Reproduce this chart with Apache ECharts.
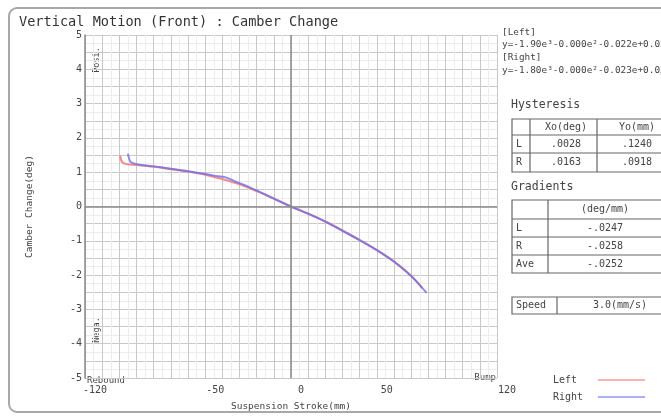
<!DOCTYPE html>
<html>
<head>
<meta charset="utf-8">
<script src="https://cdn.jsdelivr.net/npm/echarts@6/dist/echarts.min.js"></script>
<style>
  html, body { margin: 0; padding: 0; background: #fff; }
  #chart { width: 661px; height: 417px; }
</style>
</head>
<body>
<div id="chart"></div>
<script>
// Camber change vs. suspension stroke, left and right wheels
const leftStroke  = [-99.5, -98.5, -96, -90, -80, -70, -60, -50, -40, -30, -20, -10, 0, 10, 20, 30, 40, 50, 60, 70, 76.5];
const leftCamber  = [1.48, 1.30, 1.24, 1.21, 1.16, 1.09, 1.02, 0.93, 0.80, 0.65, 0.45, 0.23, 0.0, -0.21, -0.44, -0.70, -0.98, -1.27, -1.60, -2.02, -2.38];
const rightStroke = [-95, -93.5, -91, -88, -80, -70, -60, -50, -45, -38, -32, -25, -18, -10, 0, 10, 20, 30, 40, 50, 60, 70, 79];
const rightCamber = [1.54, 1.30, 1.25, 1.22, 1.17, 1.10, 1.03, 0.95, 0.90, 0.85, 0.72, 0.58, 0.42, 0.23, 0.0, -0.21, -0.44, -0.71, -0.98, -1.27, -1.61, -2.03, -2.52];

const xTickLabels = [-120, -50, 0, 50, 120];
const yTickLabels = [-5, -4, -3, -2, -1, 0, 1, 2, 3, 4, 5];

const seriesNames = ['Left', 'Right'];
const seriesColors = ['#f07a7a', '#6f6fe8'];

const fitLines = ['[Left]', 'y=-1.90e\u00b3-0.000e\u00b2-0.022e+0.03', '[Right]', 'y=-1.80e\u00b3-0.000e\u00b2-0.023e+0.03'];

const hystHeader = ['', 'Xo(deg)', 'Yo(mm)'];
const hystRows = [['L', '.0028', '.1240'], ['R', '.0163', '.0918']];
const gradHeader = ['', '(deg/mm)'];
const gradRows = [['L', '-.0247'], ['R', '-.0258'], ['Ave', '-.0252']];
const speedCells = ['Speed', '3.0(mm/s)'];

const MONO = '"DejaVu Sans Mono", "Liberation Mono", monospace';
const TXT = '#444';

function pairs(xs, ys) { return xs.map((x, i) => [x, ys[i]]); }

const chart = echarts.init(document.getElementById('chart'), null, { renderer: 'canvas' });

// frame, title and side panel
const g = [];
g.push({ type: 'rect', shape: { x: 9, y: 8, width: 700, height: 404, r: 8 }, style: { fill: 'none', stroke: '#a8a8a8', lineWidth: 2 }, z: 0 });
g.push({ type: 'text', left: 19, top: 15, style: { text: 'Vertical Motion (Front) : Camber Change', font: '13.6px ' + MONO, fill: '#333' } });

const fitY = [28, 40, 53, 66];
fitLines.forEach((t, i) => {
  g.push({ type: 'text', x: 502, y: fitY[i], style: { text: t, font: '9.4px ' + MONO, fill: TXT } });
});

g.push({ type: 'text', x: 511, y: 99, style: { text: 'Hysteresis', font: '11.5px ' + MONO, fill: TXT } });
g.push({ type: 'text', x: 511, y: 181, style: { text: 'Gradients', font: '11.5px ' + MONO, fill: TXT } });

function table(rows, top, rowH, colX, centers) {
  const right = 672;
  const bottom = top + rowH.reduce((a, b) => a + b, 0);
  g.push({ type: 'rect', shape: { x: colX[0], y: top, width: right - colX[0], height: bottom - top }, style: { fill: 'none', stroke: '#666', lineWidth: 1.2 } });
  colX.slice(1).forEach(cx => g.push({ type: 'line', shape: { x1: cx, y1: top, x2: cx, y2: bottom }, style: { stroke: '#666', lineWidth: 1.2 } }));
  let y = top;
  rows.forEach((r, i) => {
    if (i > 0) g.push({ type: 'line', shape: { x1: colX[0], y1: y, x2: right, y2: y }, style: { stroke: '#666', lineWidth: 1.2 } });
    r.forEach((cell, j) => {
      if (!cell) return;
      const first = j === 0;
      g.push({ type: 'text', x: first ? colX[0] + 4 : centers[j], y: y + rowH[i] / 2,
        style: { text: cell, font: '10px ' + MONO, fill: TXT, align: first ? 'left' : 'center', verticalAlign: 'middle' } });
    });
    y += rowH[i];
  });
}
table([hystHeader].concat(hystRows), 119, [16, 18, 19], [512, 530, 597], [0, 566, 637]);
table([gradHeader].concat(gradRows), 200, [19, 18, 18, 18], [512, 548], [0, 605]);
table([speedCells], 297, [17], [512, 557], [0, 620]);

// legend
const legY = [380, 397];
seriesNames.forEach((n, i) => {
  g.push({ type: 'text', x: 553, y: legY[i], style: { text: n, font: '10px ' + MONO, fill: TXT, verticalAlign: 'middle' } });
  g.push({ type: 'line', shape: { x1: 598, y1: legY[i], x2: 645, y2: legY[i] }, style: { stroke: seriesColors[i], lineWidth: 1.5, opacity: 0.75 } });
});

// plot annotations
g.push({ type: 'text', x: 87, y: 381, style: { text: 'Rebound', font: '9px ' + MONO, fill: TXT, verticalAlign: 'middle' } });
g.push({ type: 'text', x: 496, y: 378, style: { text: 'Bump', font: '9px ' + MONO, fill: TXT, align: 'right', verticalAlign: 'middle' } });
g.push({ type: 'text', x: 97, y: 60, rotation: Math.PI / 2, style: { text: 'Posi.', font: '8.5px ' + MONO, fill: TXT, align: 'center', verticalAlign: 'middle' } });
g.push({ type: 'text', x: 97, y: 330, rotation: Math.PI / 2, style: { text: 'Nega.', font: '8.5px ' + MONO, fill: TXT, align: 'center', verticalAlign: 'middle' } });

const option = {
  animation: false,
  backgroundColor: '#fff',
  grid: { left: 85, right: 164, top: 35, bottom: 34, containLabel: false },
  xAxis: {
    type: 'value', min: -120, max: 120, interval: 10,
    name: 'Suspension Stroke(mm)', nameLocation: 'middle', nameGap: 24,
    nameTextStyle: { fontFamily: MONO, fontSize: 9.5, color: TXT },
    axisLine: { show: false }, axisTick: { show: false },
    axisLabel: {
      fontFamily: MONO, fontSize: 10, color: TXT, margin: 7, padding: [0, 0, 0, 20],
      showMinLabel: true, showMaxLabel: true,
      formatter: v => (xTickLabels.indexOf(v) >= 0 ? String(v) : '')
    },
    splitLine: { show: true, lineStyle: { color: '#c8c8c8', width: 1 } },
    minorTick: { show: false, splitNumber: 2 },
    minorSplitLine: { show: true, lineStyle: { color: '#ececec', width: 1 } }
  },
  yAxis: {
    type: 'value', min: -5, max: 5, interval: 0.5,
    name: 'Camber Change(deg)', nameLocation: 'middle', nameGap: 50,
    nameTextStyle: { fontFamily: MONO, fontSize: 9.5, color: TXT },
    axisLine: { show: true, onZero: false, lineStyle: { color: '#8a8a8a', width: 1.5 } },
    axisTick: { show: false },
    axisLabel: {
      fontFamily: MONO, fontSize: 10, color: TXT, margin: 3,
      formatter: v => (yTickLabels.indexOf(v) >= 0 ? String(v) : '')
    },
    splitLine: { show: true, lineStyle: { color: '#c8c8c8', width: 1 } },
    minorTick: { show: false, splitNumber: 2 },
    minorSplitLine: { show: true, lineStyle: { color: '#ececec', width: 1 } }
  },
  series: [
    {
      name: seriesNames[0], type: 'line', showSymbol: false, smooth: 0.3,
      data: pairs(leftStroke, leftCamber),
      lineStyle: { color: seriesColors[0], width: 2.2, opacity: 0.85 },
      markLine: {
        silent: true, symbol: 'none', label: { show: false },
        lineStyle: { color: '#8a8a8a', width: 1.5, type: 'solid' },
        data: [{ xAxis: 0 }, { yAxis: 0 }]
      },
      z: 3
    },
    {
      name: seriesNames[1], type: 'line', showSymbol: false, smooth: 0.3,
      data: pairs(rightStroke, rightCamber),
      lineStyle: { color: seriesColors[1], width: 2, opacity: 0.8 },
      z: 4
    }
  ],
  graphic: g
};
chart.setOption(option);
</script>
</body>
</html>
